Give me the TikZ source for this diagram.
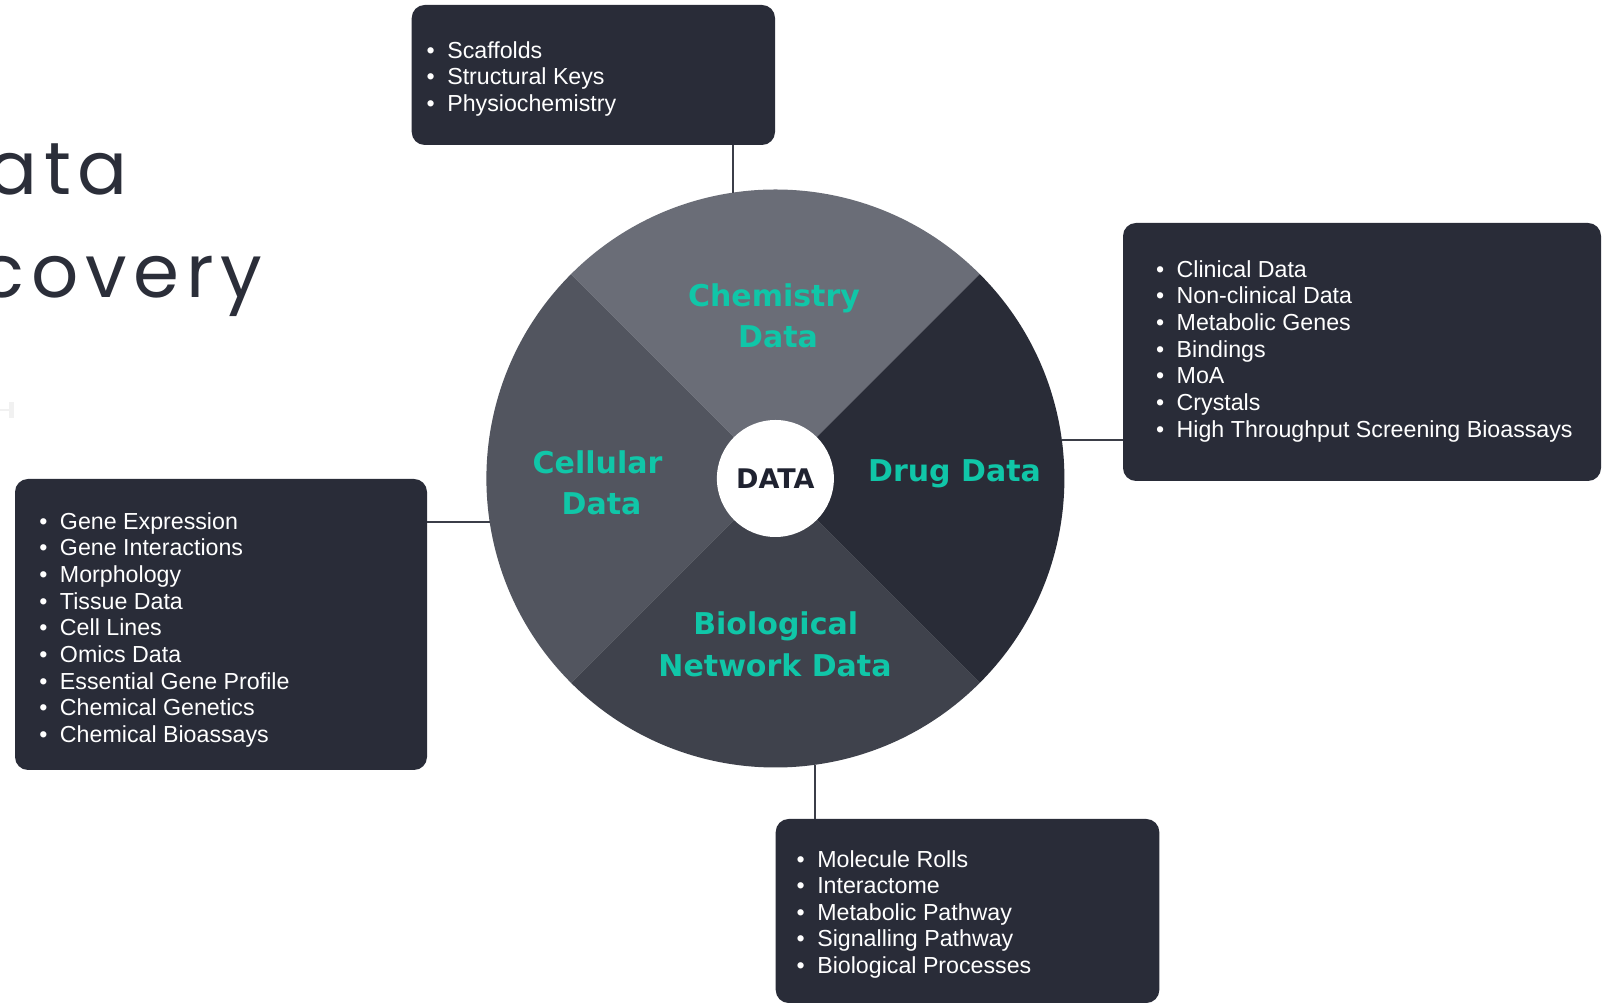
\documentclass[tikz,border=0pt]{standalone}
\usepackage{fontspec}
\setmainfont{Liberation Sans}
\newfontfamily\labelfont{DejaVu Sans}
\newfontfamily\titlefont[LetterSpace=9]{Poppins}
\usetikzlibrary{calc}
\definecolor{qtop}{HTML}{6A6D77}
\definecolor{qleft}{HTML}{52555F}
\definecolor{qbot}{HTML}{3F424C}
\definecolor{qright}{HTML}{292C37}
\definecolor{boxc}{HTML}{292C38}
\definecolor{tealc}{HTML}{10C6A8}
\definecolor{linkc}{HTML}{3B3E48}
\definecolor{titlec}{HTML}{2B2E39}
\definecolor{datac}{HTML}{1F2230}
\definecolor{faintc}{HTML}{F1F1F1}
\newcommand\bulletitem[1]{\llap{\textbullet\hspace{12.5pt}}#1}
\tikzset{
  infobox/.style={fill=boxc, rounded corners=13pt, inner sep=0pt, outer sep=0pt},
  item/.style={anchor=base west, inner sep=0pt, outer sep=0pt, text=white, font=\fontsize{23.2}{27}\selectfont},
  lab/.style={anchor=base, inner sep=0pt, outer sep=0pt, text=tealc, font=\labelfont\bfseries\fontsize{30}{36}\selectfont},
  link/.style={draw=linkc, line width=2pt},
  ttl/.style={anchor=base east, inner sep=0pt, outer sep=0pt, text=titlec, font=\titlefont\fontsize{74}{80}\selectfont},
}
\begin{document}
\begin{tikzpicture}[x=1pt,y=1pt]
\useasboundingbox (0,0) rectangle (1604,1004);
\fill[white] (0,0) rectangle (1604,1004);

% title fragments
\node[ttl] (ttlA) at (128,809) {ata};
\node[ttl] (ttlB) at (262,706) {covery};
% faint mark
\fill[faintc] (9,586) rectangle (14,602);
\draw[faintc, line width=1.5pt] (0,594) -- (9,594);

% wheel
\node[circle, minimum size=578pt, inner sep=0pt, outer sep=0pt] (wheel) at (775.4,525.5) {};
\fill[qtop] (wheel.center) -- (wheel.45) arc[start angle=45, end angle=135, radius=289pt] -- cycle;
\fill[qleft] (wheel.center) -- (wheel.135) arc[start angle=135, end angle=225, radius=289pt] -- cycle;
\fill[qbot] (wheel.center) -- (wheel.225) arc[start angle=225, end angle=315, radius=289pt] -- cycle;
\fill[qright] (wheel.center) -- (wheel.315) arc[start angle=-45, end angle=45, radius=289pt] -- cycle;
\node[circle, fill=white, minimum size=117pt, inner sep=0pt, outer sep=0pt, text=datac,
      font=\labelfont\bfseries\fontsize{27}{32}\selectfont] (core) at (wheel.center) {DATA};

% quadrant labels
\node[lab] (chemA) at (774,697) {Chemistry};
\node[lab] (chemB) at (778,656) {Data};
\node[lab] (cellA) at (597.5,530) {Cellular};
\node[lab] (cellB) at (601.5,489) {Data};
\node[lab] (drugA) at (954.5,522.5) {Drug Data};
\node[lab] (bioA) at (775.7,369) {Biological};
\node[lab] (bioB) at (775,327.5) {Network Data};

% boxes
\node[infobox, minimum width=363.3pt, minimum height=140pt] (tbox) at (593.35,929) {};
\node[infobox, minimum width=478pt, minimum height=258pt] (rbox) at (1362,652) {};
\node[infobox, minimum width=412pt, minimum height=291pt] (lbox) at (221,379.5) {};
\node[infobox, minimum width=383.6pt, minimum height=184pt] (bbox) at (967.5,93) {};

% connectors
\coordinate (tc) at ($(wheel.center)+(98.44:289)$);
\coordinate (rc) at ($(wheel.center)+(7.66:289)$);
\coordinate (lc) at ($(wheel.center)+(188.66:289)$);
\coordinate (bc) at ($(wheel.center)+(277.87:289)$);
\draw[link] (tc) -- (tc |- tbox.south);
\draw[link] (rc) -- (rc -| rbox.west);
\draw[link] (lc) -- (lc -| lbox.east);
\draw[link] (bc) -- (bc |- bbox.north);

% box texts
\foreach \t [count=\i from 0] in {Scaffolds, Structural Keys, Physiochemistry}
  \node[item] (tl\i) at (447.3,{945.7-26.67*\i}) {\bulletitem{\t}};
\foreach \t [count=\i from 0] in {Clinical Data, Non-clinical Data, Metabolic Genes, Bindings, MoA, Crystals, High Throughput Screening Bioassays}
  \node[item] (rl\i) at (1176.7,{726.7-26.67*\i}) {\bulletitem{\t}};
\foreach \t [count=\i from 0] in {Gene Expression, Gene Interactions, Morphology, Tissue Data, Cell Lines, Omics Data, Essential Gene Profile, Chemical Genetics, Chemical Bioassays}
  \node[item] (ll\i) at (60,{474.7-26.67*\i}) {\bulletitem{\t}};
\foreach \t [count=\i from 0] in {Molecule Rolls, Interactome, Metabolic Pathway, Signalling Pathway, Biological Processes}
  \node[item] (bl\i) at (817.3,{136.7-26.5*\i}) {\bulletitem{\t}};
\end{tikzpicture}
\end{document}
